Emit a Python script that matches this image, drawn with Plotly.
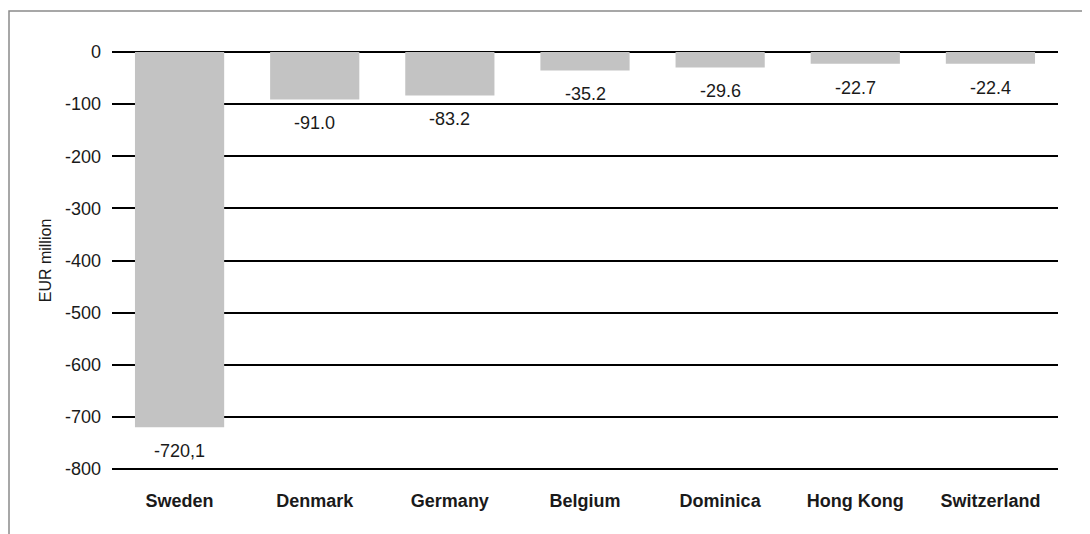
import plotly.graph_objects as go

countries = ["Sweden", "Denmark", "Germany", "Belgium", "Dominica", "Hong Kong", "Switzerland"]
values = [-720.1, -91.0, -83.2, -35.2, -29.6, -22.7, -22.4]
value_labels = ["-720,1", "-91.0", "-83.2", "-35.2", "-29.6", "-22.7", "-22.4"]
tick_vals = [0, -100, -200, -300, -400, -500, -600, -700, -800]
tick_text = ["0", "-100", "-200", "-300", "-400", "-500", "-600", "-700", "-800"]

FONT = "Liberation Sans, Arial, Helvetica, sans-serif"
W, H = 1090, 534
# pixel scale of the value axis
UNIT = 417 / 800.0
Y_TOP, Y_BOT = 2, -802
ML, MR = 104, 40
MT = 44 - (Y_TOP * UNIT)
PH = (Y_TOP - Y_BOT) * UNIT
MB = H - MT - PH
PW = W - ML - MR

fig = go.Figure()
fig.add_trace(go.Bar(
    x=countries, y=values,
    marker=dict(color="#c3c3c3", line=dict(width=0)),
    hoverinfo="x+y",
))

for c, v, t in zip(countries, values, value_labels):
    fig.add_annotation(x=c, y=v, text=t, showarrow=False, yanchor="middle",
                       yshift=-24, font=dict(family=FONT, size=18, color="#1a1a1a"))

def px_x(p):
    return (p - ML) / PW

def px_y(p):
    return 1 - (p - MT) / PH

fig.add_shape(type="rect", xref="paper", yref="paper",
              x0=px_x(1), x1=px_x(1100), y0=px_y(560), y1=px_y(3),
              line=dict(color="#8a8a8a", width=1.5), fillcolor="rgba(0,0,0,0)", layer="below")

fig.update_layout(
    width=W, height=H,
    margin=dict(l=ML, r=MR, t=MT, b=MB, autoexpand=False),
    paper_bgcolor="white", plot_bgcolor="white",
    showlegend=False,
    bargap=0.34,
    font=dict(family=FONT, size=18, color="#1a1a1a"),
    xaxis=dict(
        showgrid=False, showline=False, zeroline=False, ticks="",
        tickfont=dict(family=FONT, size=18, color="#1a1a1a", weight="bold"),
        ticklabelstandoff=18,
    ),
    yaxis=dict(
        range=[Y_BOT, Y_TOP], tickvals=tick_vals, ticktext=tick_text,
        showgrid=True, gridcolor="#000000", gridwidth=2,
        zeroline=True, zerolinecolor="#000000", zerolinewidth=2,
        showline=False, ticks="",
        tickfont=dict(family=FONT, size=18, color="#1a1a1a"),
        ticklabelstandoff=10,
        title=dict(text="EUR million", font=dict(family=FONT, size=16, color="#1a1a1a"), standoff=9),
    ),
)

fig.write_html("out.html")
